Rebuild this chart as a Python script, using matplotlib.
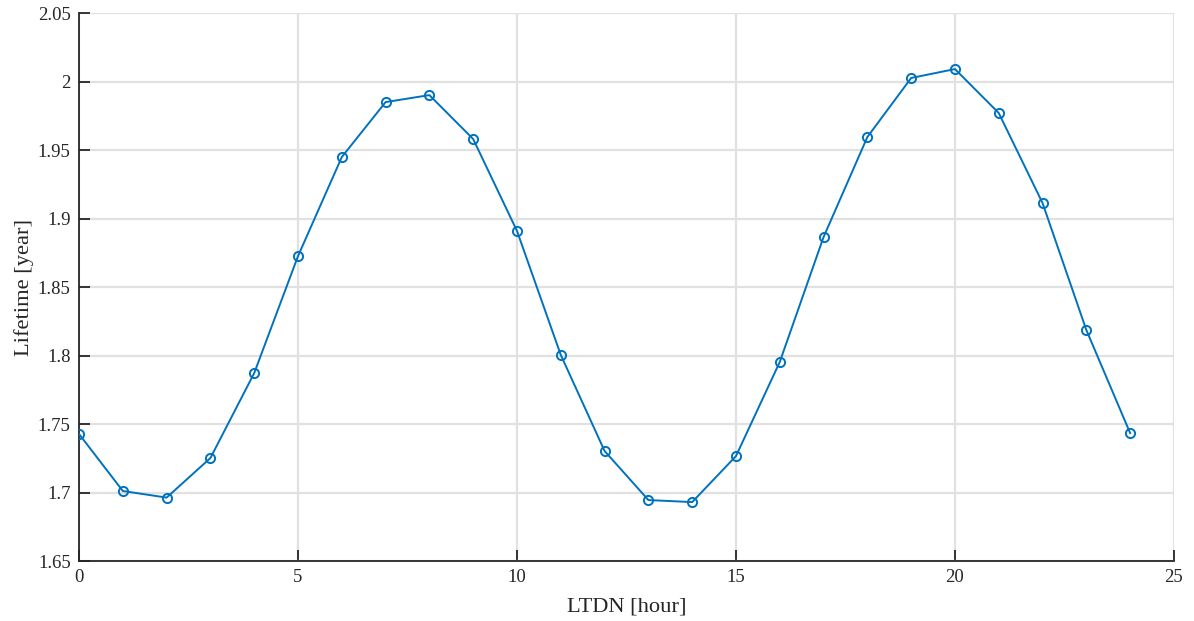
import matplotlib.pyplot as plt

# LTDN vs lifetime
ltdn = list(range(25))
lifetime = [1.7427, 1.7011, 1.6963, 1.7252, 1.7872, 1.8726, 1.9449, 1.9850,
            1.9901, 1.9580, 1.8909, 1.8004, 1.7303, 1.6945, 1.6930, 1.7266,
            1.7953, 1.8865, 1.9595, 2.0026, 2.0091, 1.9770, 1.9113, 1.8186,
            1.7434]
xticks = [0, 5, 10, 15, 20, 25]
yticks = [1.65, 1.7, 1.75, 1.8, 1.85, 1.9, 1.95, 2.0, 2.05]
ytick_labels = ["1.65", "1.7", "1.75", "1.8", "1.85", "1.9", "1.95", "2", "2.05"]

plt.rcParams["font.family"] = ["Liberation Serif", "DejaVu Serif"]

fig = plt.figure(figsize=(11.94, 6.21), dpi=100)
ax = fig.add_axes([0.0662, 0.0966, 0.9170, 0.8824])

ax.plot(ltdn, lifetime, color="#0072BD", linewidth=1.4, marker="o",
        markersize=6.6, markerfacecolor="none", markeredgewidth=1.4, zorder=3)

ax.set_xlim(0, 25)
ax.set_ylim(1.65, 2.05)
ax.set_xticks(xticks)
ax.set_yticks(yticks)
ax.set_yticklabels(ytick_labels)

ax.grid(True, color="#e1e1e1", linewidth=1.6)
ax.set_axisbelow(True)
for side in ["top", "right"]:
    ax.spines[side].set_visible(False)
for side in ["left", "bottom"]:
    ax.spines[side].set_color("#262626")
    ax.spines[side].set_linewidth(1.3)
ax.tick_params(direction="in", length=8, width=1.3, color="#262626",
               labelsize=13.5, labelcolor="#262626", pad=6)

ax.set_xlabel("LTDN [hour]", fontsize=16.2, color="#262626", labelpad=8)
ax.set_ylabel("Lifetime [year]", fontsize=16.2, color="#262626", labelpad=3)

fig.savefig("out.png", dpi=100)
